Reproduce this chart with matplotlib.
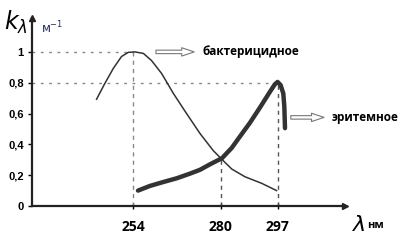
import numpy as np
import matplotlib.pyplot as plt

# бактерицидное действие (тонкая линия)
bact_nm = [243.2, 245.7, 248.2, 250.6, 252.6, 254.6, 257.1, 259.5, 262.5, 266.0, 269.9, 273.9, 277.8, 280.5,
           283.3, 287.2, 292.2, 296.6]
bact_k = [0.693, 0.797, 0.894, 0.97, 0.997, 1.0, 0.99, 0.944, 0.86, 0.73, 0.60, 0.47, 0.36, 0.30,
          0.24, 0.19, 0.147, 0.10]

# эритемное действие (толстая линия)
ery_nm = [255.5, 259.0, 262.9, 267.0, 270.9, 273.9, 276.8, 280.4, 283.3, 285.7, 288.7, 291.7, 294.6, 296.1,
          296.9, 297.8, 298.6, 298.9, 299.1]
ery_k = [0.10, 0.13, 0.155, 0.18, 0.21, 0.235, 0.27, 0.31, 0.377, 0.45, 0.54, 0.64, 0.74, 0.79,
         0.805, 0.785, 0.73, 0.645, 0.505]

yticks = [0, 0.2, 0.4, 0.6, 0.8, 1]
ytick_labels = ['0', '0,2', '0,4', '0,6', '0,8', '1']
xticks = [254, 280, 297]

fig = plt.figure(figsize=(4.06, 2.42), dpi=100)
ax = fig.add_axes([32 / 406, 36 / 242, 313 / 406, 188 / 242])
ax.set_xlim(224.05, 316.9)
ax.set_ylim(0, 1.22)

for s in ['top', 'right']:
    ax.spines[s].set_visible(False)
for s in ['left', 'bottom']:
    ax.spines[s].set_linewidth(1.6)
    ax.spines[s].set_color('#222222')

# стрелки осей
ax.plot(1, 0, '>', color='#222222', ms=5, transform=ax.transAxes, clip_on=False)
ax.plot(0, 1, '^', color='#222222', ms=5, transform=ax.transAxes, clip_on=False)

# вспомогательные пунктиры
gc = '#888888'
ax.plot([224.05, 254], [1, 1], ls=(0, (2, 4)), color=gc, lw=1)
ax.plot([254, 254], [0, 1], ls=(0, (3, 3)), color=gc, lw=1)
ax.plot([224.05, 297], [0.8, 0.8], ls=(0, (2, 4)), color=gc, lw=1)
ax.plot([280, 280], [0, 0.3], ls=(0, (3, 3)), color='#555555', lw=1)
ax.plot([297, 297], [0, 0.8], ls=(0, (3, 3)), color='#555555', lw=1)

ax.plot(bact_nm, bact_k, color='#333333', lw=1.1, solid_joinstyle='round')
ax.plot(ery_nm, ery_k, color='#333333', lw=3.2, solid_capstyle='round', solid_joinstyle='round')

ax.set_yticks(yticks)
ax.set_yticklabels(ytick_labels, fontsize=8, fontweight='bold', family='Liberation Sans')
ax.set_xticks(xticks)
ax.set_xticklabels([str(t) for t in xticks], fontsize=10, fontweight='bold', family='Open Sans')
ax.tick_params(axis='y', length=3, width=1, pad=3)
ax.tick_params(axis='x', length=4, width=1, pad=8, direction='inout')

arrow = dict(arrowstyle='simple,head_width=0.6,head_length=0.9,tail_width=0.25',
             fc='white', ec='#777777', lw=0.8)
ax.annotate('', xy=(273.0, 1.0), xytext=(260.0, 1.0), arrowprops=arrow)
ax.text(274.5, 1.0, 'бактерицидное', fontsize=8.5, fontweight='bold', family='Open Sans',
        va='center', ha='left')
ax.annotate('', xy=(311.5, 0.575), xytext=(300.0, 0.575), arrowprops=arrow)
ax.text(313.0, 0.575, 'эритемное', fontsize=8.5, fontweight='bold', family='Open Sans',
        va='center', ha='left', clip_on=False)

fig.text(4 / 406, 1 - 22 / 242, r'$k_\lambda$', fontsize=17, va='center', ha='left',
         family='DejaVu Serif', style='italic', fontweight='bold')
fig.text(41 / 406, 1 - 28 / 242, 'м$^{-1}$', fontsize=8.5, va='center', ha='left', color='#1f2a5a')
fig.text(352 / 406, 1 - 225 / 242, r'$\lambda$', fontsize=16, va='center', ha='left')
fig.text(367 / 406, 1 - 226 / 242, 'нм', fontsize=8, fontweight='bold', family='Open Sans',
         va='center', ha='left')

fig.savefig('out.png', dpi=100)
